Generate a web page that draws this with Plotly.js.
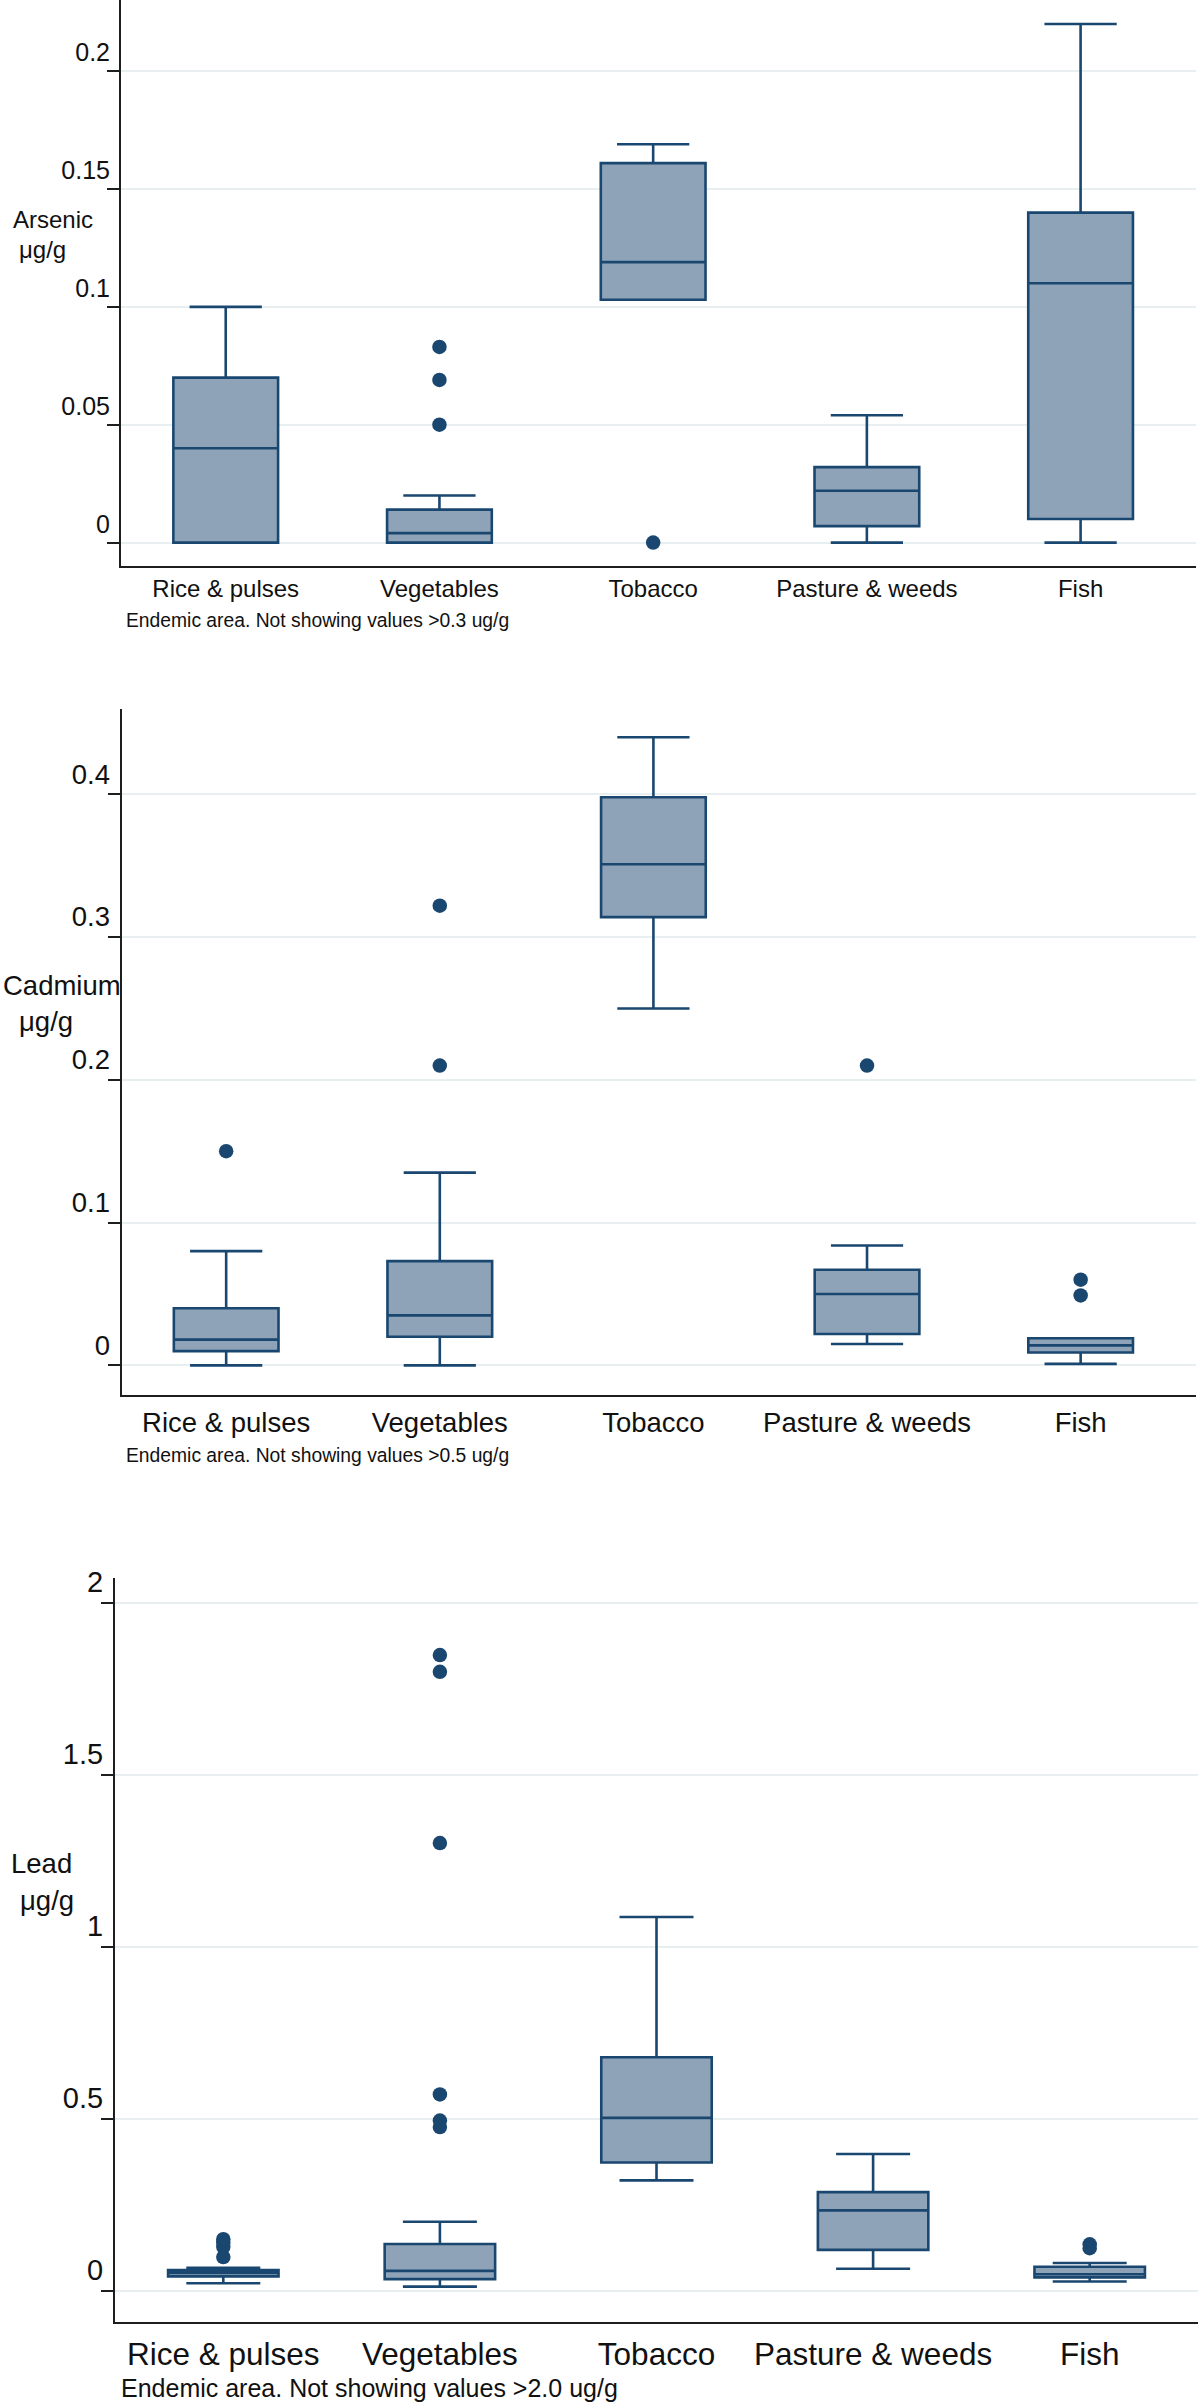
<!DOCTYPE html>
<html>
<head>
<meta charset="utf-8">
<script src="https://cdn.plot.ly/plotly-3.0.1.min.js"></script>
<style>
  html, body { margin: 0; padding: 0; background: #ffffff; }
  #chart { width: 1200px; height: 2403px; }
</style>
</head>
<body>
<div id="chart"></div>
<script>
// ---------- categories ----------
const categories = ['Rice & pulses', 'Vegetables', 'Tobacco', 'Pasture & weeds', 'Fish'];

// ---------- Arsenic (µg/g) ----------
const asLower  = [0.000, 0.000, 0.103, 0.000, 0.000];
const asQ1     = [0.000, 0.000, 0.103, 0.007, 0.010];
const asMedian = [0.040, 0.004, 0.119, 0.022, 0.110];
const asQ3     = [0.070, 0.014, 0.161, 0.032, 0.140];
const asUpper  = [0.100, 0.020, 0.169, 0.054, 0.220];
const asOutX   = ['Vegetables', 'Vegetables', 'Vegetables', 'Tobacco'];
const asOutY   = [0.083, 0.069, 0.050, 0.000];
const asTicks  = [0, 0.05, 0.1, 0.15, 0.2];
const asTickText = ['0', '0.05', '0.1', '0.15', '0.2'];

// ---------- Cadmium (µg/g) ----------
const cdLower  = [0.000, 0.000, 0.250, 0.015, 0.001];
const cdQ1     = [0.010, 0.020, 0.314, 0.022, 0.009];
const cdMedian = [0.018, 0.035, 0.351, 0.050, 0.014];
const cdQ3     = [0.040, 0.073, 0.398, 0.067, 0.019];
const cdUpper  = [0.080, 0.135, 0.440, 0.084, 0.019];
const cdOutX   = ['Rice & pulses', 'Vegetables', 'Vegetables', 'Pasture & weeds', 'Fish', 'Fish'];
const cdOutY   = [0.150, 0.322, 0.210, 0.210, 0.060, 0.049];
const cdTicks  = [0, 0.1, 0.2, 0.3, 0.4];
const cdTickText = ['0', '0.1', '0.2', '0.3', '0.4'];

// ---------- Lead (µg/g) ----------
const pbLower  = [0.022, 0.012, 0.321, 0.064, 0.027];
const pbQ1     = [0.042, 0.034, 0.373, 0.119, 0.039];
const pbMedian = [0.052, 0.058, 0.503, 0.234, 0.048];
const pbQ3     = [0.060, 0.136, 0.679, 0.287, 0.070];
const pbUpper  = [0.067, 0.201, 1.087, 0.398, 0.081];
const pbOutX   = ['Rice & pulses', 'Rice & pulses', 'Rice & pulses', 'Rice & pulses',
                  'Vegetables', 'Vegetables', 'Vegetables', 'Vegetables', 'Vegetables', 'Vegetables',
                  'Fish', 'Fish'];
const pbOutY   = [0.098, 0.128, 0.140, 0.150,
                  1.849, 1.800, 1.302, 0.571, 0.495, 0.476,
                  0.135, 0.124];
const pbTicks  = [0, 0.5, 1, 1.5, 2];
const pbTickText = ['0', '0.5', '1', '1.5', '2'];

// ---------- texts ----------
const yTitles = ['Arsenic', 'Cadmium', 'Lead'];
const yUnit = 'μg/g';
const notes = [
  'Endemic area. Not showing values >0.3 ug/g',
  'Endemic area. Not showing values >0.5 ug/g',
  'Endemic area. Not showing values >2.0 ug/g'
];

// ---------- styling ----------
const W = 1200, H = 2403;
const FONT = 'Liberation Sans, Arial, Helvetica, sans-serif';
const LINE = '#1a476f';
const FILL = '#8fa3b8';
const AXIS = '#1e1e1e';
const GRID = '#e7eff1';
const px = v => v / W;
const py = v => 1 - v / H;

function boxTrace(xa, ya, q1, med, q3, lo, hi, width, whisker) {
  return {
    type: 'box', xaxis: xa, yaxis: ya,
    x: categories, q1: q1, median: med, q3: q3, lowerfence: lo, upperfence: hi,
    boxpoints: false, width: width, whiskerwidth: whisker,
    fillcolor: FILL, line: { color: LINE, width: 2.6 },
    showlegend: false, hoverinfo: 'y'
  };
}
function outTrace(xa, ya, xs, ys) {
  return {
    type: 'scatter', mode: 'markers', xaxis: xa, yaxis: ya,
    x: xs, y: ys, marker: { color: LINE, size: 14.5 },
    showlegend: false, cliponaxis: false
  };
}

const data = [
  boxTrace('x', 'y', asQ1, asMedian, asQ3, asLower, asUpper, 0.49, 0.69),
  outTrace('x', 'y', asOutX, asOutY),
  boxTrace('x2', 'y2', cdQ1, cdMedian, cdQ3, cdLower, cdUpper, 0.49, 0.69),
  outTrace('x2', 'y2', cdOutX, cdOutY),
  boxTrace('x3', 'y3', pbQ1, pbMedian, pbQ3, pbLower, pbUpper, 0.51, 0.67),
  outTrace('x3', 'y3', pbOutX, pbOutY)
];

function xAxis(domain, anchor, range, fsize, standoff) {
  return {
    domain: domain, anchor: anchor, type: 'category',
    categoryorder: 'array', categoryarray: categories, range: range,
    showline: true, linecolor: AXIS, linewidth: 2, mirror: false,
    ticks: '', showgrid: false, zeroline: false,
    tickfont: { family: FONT, size: fsize, color: '#111' },
    ticklabelstandoff: standoff, fixedrange: true
  };
}
function yAxis(domain, anchor, range, tv, tt, fsize) {
  return {
    domain: domain, anchor: anchor, range: range,
    tickmode: 'array', tickvals: tv, ticktext: tt,
    ticks: 'outside', ticklen: 12, tickwidth: 2, tickcolor: AXIS,
    showline: true, linecolor: AXIS, linewidth: 2, mirror: false,
    showgrid: true, gridcolor: GRID, gridwidth: 2, zeroline: false,
    ticklabelposition: 'outside top', ticklabelstandoff: 4,
    tickfont: { family: FONT, size: fsize, color: '#111' }, fixedrange: true
  };
}

function ann(text, x, y, size, anchor) {
  return {
    text: text, xref: 'paper', yref: 'paper', x: px(x), y: py(y),
    xanchor: anchor || 'left', yanchor: 'middle', showarrow: false,
    font: { family: FONT, size: size, color: '#111' }
  };
}

const layout = {
  width: W, height: H,
  margin: { l: 0, r: 0, t: 0, b: 0, pad: 0 },
  paper_bgcolor: '#ffffff', plot_bgcolor: '#ffffff',
  showlegend: false,
  xaxis:  xAxis([px(121), px(1196)], 'y',  [-0.49, 4.54], 24, 0),
  yaxis:  yAxis([py(566.4), 1], 'x', [-0.0101, 0.2302], asTicks, asTickText, 25),
  xaxis2: xAxis([px(121.5), px(1196)], 'y2', [-0.49, 4.54], 27.5, 2),
  yaxis2: yAxis([py(1394.9), py(708.7)], 'x2', [-0.0207, 0.460], cdTicks, cdTickText, 27.5),
  xaxis3: xAxis([px(115), px(1198)], 'y3', [-0.5, 4.5], 31.5, 3),
  yaxis3: yAxis([py(2321.7), py(1578)], 'x3', [-0.0899, 2.073], pbTicks, pbTickText, 29),
  annotations: [
    ann(yTitles[0], 11, 219, 24),
    ann(yUnit, 17, 249, 24),
    ann(yTitles[1], 1, 985, 27.5),
    ann(yUnit, 17, 1021, 27.5),
    ann(yTitles[2], 9, 1863, 27.5),
    ann(yUnit, 18, 1900, 27.5),
    ann(notes[0], 124, 620, 19.3),
    ann(notes[1], 124, 1455, 19.3),
    ann(notes[2], 119, 2388, 25)
  ]
};

Plotly.newPlot('chart', data, layout, { staticPlot: true, displayModeBar: false });
</script>
</body>
</html>
